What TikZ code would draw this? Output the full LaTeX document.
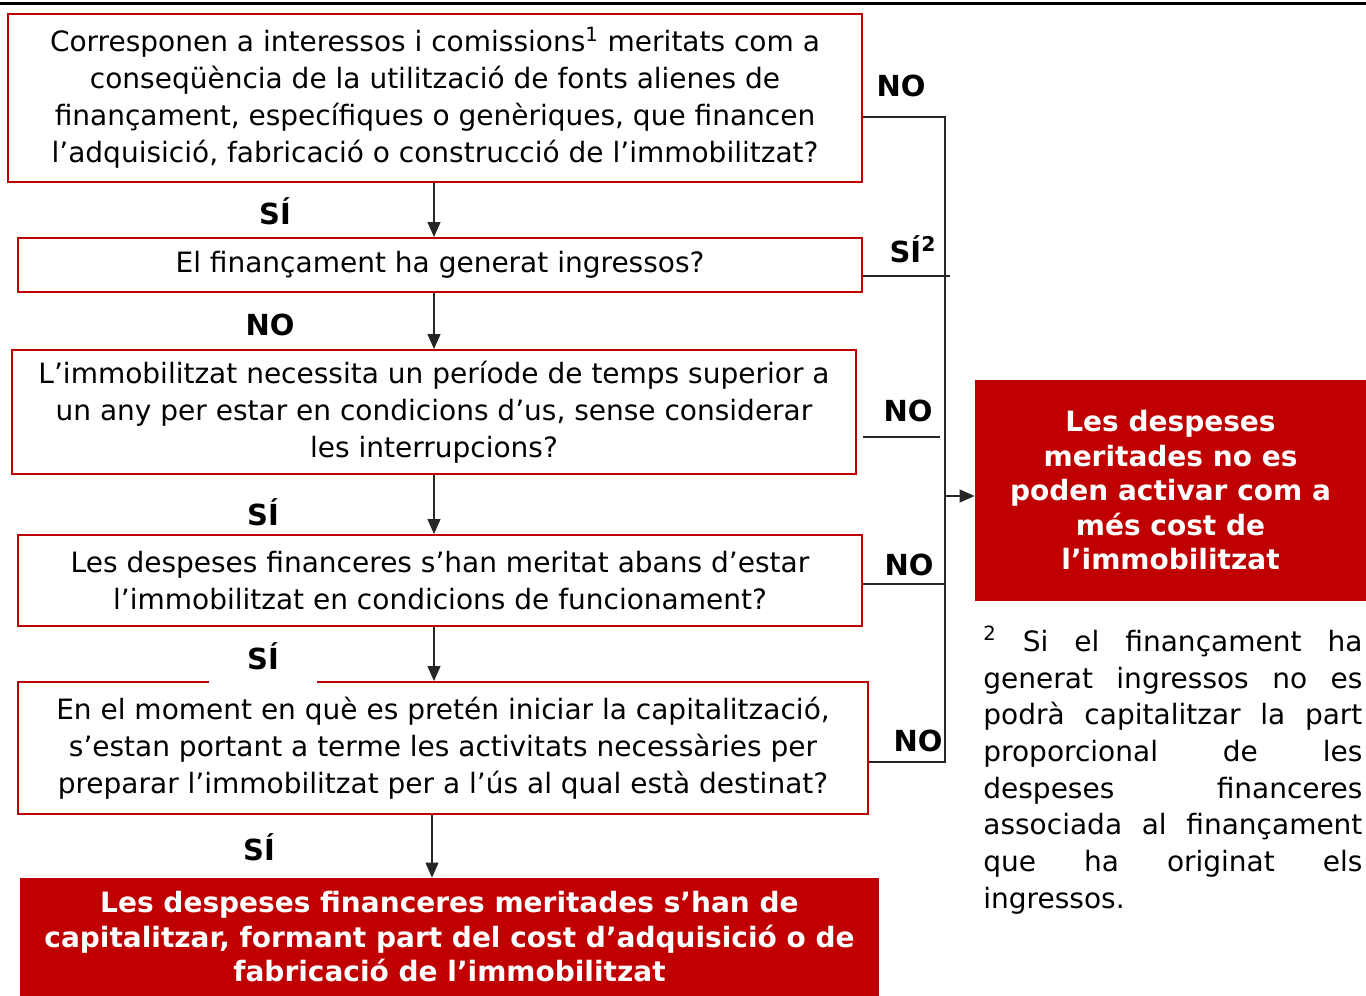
\documentclass[tikz,border=0pt]{standalone}
\usepackage{fontspec}
\setmainfont{DejaVu Sans}
\usetikzlibrary{arrows.meta}
\usetikzlibrary{positioning}
\definecolor{fosc}{HTML}{C00000}
\tikzset{question/.style={rectangle,draw=fosc,line width=1pt,fill=white,align=center,inner sep=0pt,font=\fontsize{14}{18.5}\selectfont}}
\tikzset{result/.style={rectangle,fill=fosc,text=white,align=center,inner sep=0pt,font=\bfseries\fontsize{14}{17.25}\selectfont}}
\tikzset{answer/.style={font=\bfseries\fontsize{14.5}{16}\selectfont,inner sep=1pt}}
\tikzset{wire/.style={draw=black!85,line width=0.6pt}}
\tikzset{arr/.style={wire,-{Triangle[length=7.5pt,width=6.5pt]}}}

\begin{document}
\begin{tikzpicture}[x=0.5pt,y=-0.5pt]
\useasboundingbox (0,0) rectangle (1366,996);
\draw[line width=1.5pt] (0,3.5) -- (1366,3.5);

% preguntes
\node[question,minimum width=427pt,minimum height=84pt] (q1) at (435,98)
  {Corresponen a interessos i comissions\textsuperscript{1} meritats com a\\
   conseqüència de la utilització de fonts alienes de\\
   finançament, específiques o genèriques, que financen\\
   l’adquisició, fabricació o construcció de l’immobilitzat?};
\node[question,minimum width=422pt,minimum height=27pt] (q2) at (440,265)
  {El finançament ha generat ingressos?};
\node[question,minimum width=422pt,minimum height=62pt] (q3) at (434,412)
  {L’immobilitzat necessita un període de temps superior a\\
   un any per estar en condicions d’us, sense considerar\\
   les interrupcions?};
\node[question,minimum width=422pt,minimum height=45.5pt] (q4) at (440,580.5)
  {Les despeses financeres s’han meritat abans d’estar\\
   l’immobilitzat en condicions de funcionament?};
\node[question,minimum width=425pt,minimum height=66pt] (q5) at (443,748)
  {En el moment en què es pretén iniciar la capitalització,\\
   s’estan portant a terme les activitats necessàries per\\
   preparar l’immobilitzat per a l’ús al qual està destinat?};

% resultats
\node[result,minimum width=429.5pt,minimum height=59pt] (res1) at (449.5,937)
  {Les despeses financeres meritades s’han de\\
   capitalitzar, formant part del cost d’adquisició o de\\
   fabricació de l’immobilitzat};
\node[result,minimum width=195.5pt,minimum height=110.5pt] (res2) at (1170.5,490.5)
  {Les despeses\\ meritades no es\\ poden activar com a\\ més cost de\\ l’immobilitzat};

% nota
\node[anchor=north west,inner sep=0pt,text width=189.5pt,align=justify,
  font=\fontsize{14}{18.35}\selectfont] (nota) at (983,626)
  {\textsuperscript{2} Si el finançament ha\linebreak generat ingressos no es\linebreak
   podrà capitalitzar la part\linebreak proporcional de les\linebreak
   despeses financeres\linebreak associada al finançament\linebreak
   que ha originat els\linebreak ingressos.};

% fletxes cap avall
\coordinate (eix) at (434,0);
\coordinate (eixb) at (432,0);
\draw[arr] (q1.south -| eix) -- (q2.north -| eix);
\draw[arr] (q2.south -| eix) -- (q3.north -| eix);
\draw[arr] (q3.south -| eix) -- (q4.north -| eix);
\draw[arr] (q4.south -| eix) -- (q5.north -| eix);
\draw[arr] (q5.south -| eixb) -- (res1.north -| eixb);

% branca dreta
\coordinate (t1) at (945,117);
\coordinate (t2) at (950,276);
\coordinate (t3) at (940,437);
\coordinate (t4) at (945,584);
\coordinate (t5) at (945,762);
\coordinate (ta) at (945,496);
\draw[wire] (q1.east |- t1) -- (t1) -- (t5) -- (q5.east |- t5);
\draw[wire,line width=1pt] (q2.east |- t2) -- (t2);
\draw[wire] ([xshift=3pt]q3.east |- t3) -- (t3);
\draw[wire] (q4.east |- t4) -- (t4);
\draw[arr] (ta) -- (ta -| res2.west);

% respostes
\node[answer] (a1) at (275,211) {SÍ};
\node[answer] (a2) at (270,325) {NO};
\node[answer] (a3) at (263,512) {SÍ};
\node[answer,fill=white,minimum width=54pt,minimum height=27pt] (a4) at (263,656) {SÍ};
\node[answer] (a5) at (259,847) {SÍ};
\node[answer] (b1) at (901,86) {NO};
\node[answer] (b2) at (913,249) {SÍ\textsuperscript{2}};
\node[answer] (b3) at (908,411) {NO};
\node[answer] (b4) at (909,565) {NO};
\node[answer] (b5) at (918,741) {NO};
\end{tikzpicture}
\end{document}
